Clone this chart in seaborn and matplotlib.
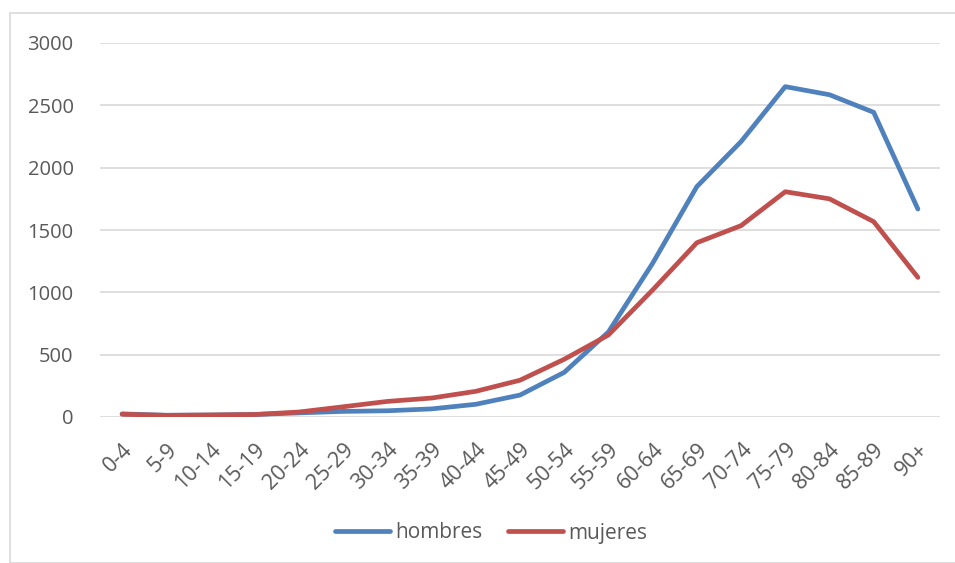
import matplotlib
matplotlib.use("Agg")
import matplotlib.pyplot as plt
import seaborn as sns
import pandas as pd
from matplotlib.patches import Rectangle
from matplotlib.lines import Line2D

categories = ["0-4", "5-9", "10-14", "15-19", "20-24", "25-29", "30-34", "35-39",
              "40-44", "45-49", "50-54", "55-59", "60-64", "65-69", "70-74",
              "75-79", "80-84", "85-89", "90+"]
hombres = [25, 14, 16, 20, 33, 45, 50, 65, 102, 176, 358, 682, 1233, 1848, 2209,
           2650, 2585, 2444, 1668]
mujeres = [22, 13, 16, 20, 40, 82, 125, 152, 206, 295, 463, 658, 1019, 1398, 1535,
           1807, 1750, 1567, 1120]
series_names = ["hombres", "mujeres"]
yticks = [0, 500, 1000, 1500, 2000, 2500, 3000]

df = pd.DataFrame({
    "cat": categories * 2,
    "x": list(range(len(categories))) * 2,
    "value": hombres + mujeres,
    "serie": [series_names[0]] * len(categories) + [series_names[1]] * len(categories),
})

sns.set_theme(style="white")
plt.rcParams["font.family"] = ["Open Sans", "DejaVu Sans"]

fig = plt.figure(figsize=(9.55, 5.63), dpi=100)
ax = fig.add_axes([100/955, 1-417/563, 840/955, 374/563])

# outer border
fig.patches.append(Rectangle((10/955, 0), 1.0, 1-13/563, transform=fig.transFigure,
                             fill=False, edgecolor="#d9d9d9", linewidth=1.2))

sns.lineplot(data=df, x="x", y="value", hue="serie",
             palette={"hombres": "#4F81BD", "mujeres": "#C0504D"},
             linewidth=3.4, ax=ax, legend=False, solid_capstyle="round")

ax.set_xlim(-0.5, len(categories) - 0.5)
ax.set_ylim(0, 3000)
ax.set_yticks(yticks)
ax.set_yticklabels([str(t) for t in yticks], fontsize=14.5, color="#595959")
ax.set_xticks(range(len(categories)))
ax.set_xticklabels(categories, rotation=45, ha="right", rotation_mode="anchor",
                   fontsize=15.5, color="#595959")
ax.tick_params(axis="y", length=0, pad=19)
ax.tick_params(axis="x", length=0, pad=16)
ax.grid(axis="y", color="#d9d9d9", linewidth=1.2)
ax.set_axisbelow(True)
for s in ax.spines.values():
    s.set_visible(False)
ax.set_xlabel("")
ax.set_ylabel("")

handles = [Line2D([], [], color="#4F81BD", linewidth=3.4, solid_capstyle="round"),
           Line2D([], [], color="#C0504D", linewidth=3.4, solid_capstyle="round")]
fig.legend(handles, series_names, loc="center", bbox_to_anchor=(491/955, 1-533/563),
           ncol=2, frameon=False, fontsize=15, handlelength=2.64,
           handletextpad=0.25, columnspacing=1.2, labelcolor="#595959")

fig.savefig("out.png", dpi=100)
